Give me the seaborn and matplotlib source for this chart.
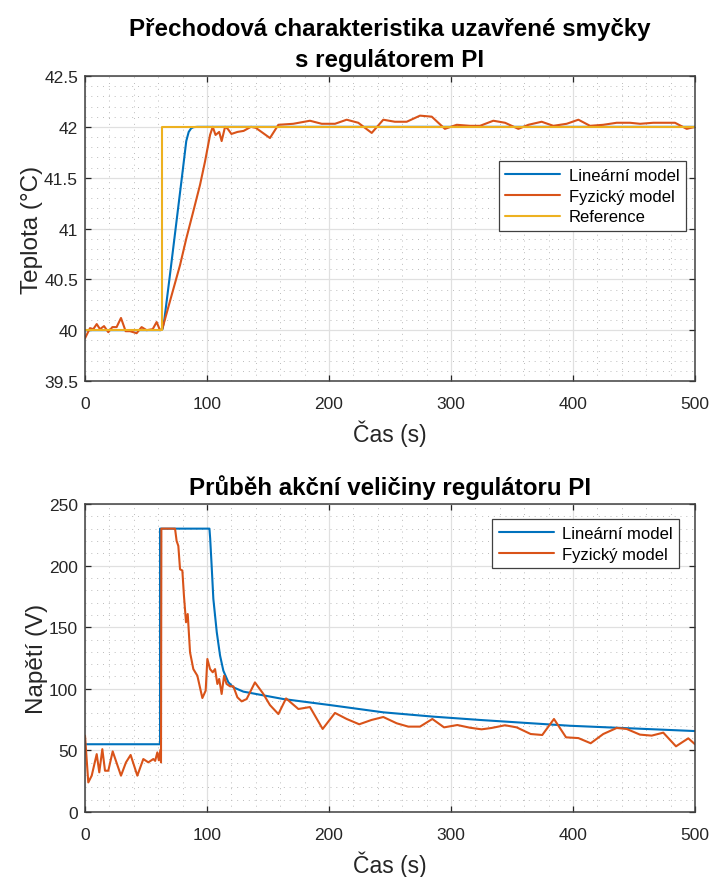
import numpy as np
import pandas as pd
import matplotlib
matplotlib.use("Agg")
import matplotlib.pyplot as plt
from matplotlib.ticker import MultipleLocator, FuncFormatter
import seaborn as sns

# ---------------- data ----------------
# Top: closed-loop step response (temperature)
t_ref = [0, 63, 63, 500]
y_ref = [40, 40, 42, 42]

t_lin_T = [0, 62, 63.5, 65, 70, 75, 80, 83, 85, 87, 89, 92, 500]
y_lin_T = [40, 40, 40.01, 40.1, 40.58, 41.07, 41.56, 41.86, 41.95, 41.985, 41.997, 42.0, 42.0]

t_fyz_T = [0, 4.1, 6.8, 9.6, 12.3, 15.6, 19.1, 22.4, 25.9, 29.5, 33.3, 36.9, 42.3, 46.4,
           50.5, 55.5, 58.7, 61.5, 63.3, 70, 77.9, 83, 88.8, 94.3, 98.4, 102.5, 104.7, 107,
           110, 112, 114.8, 117, 120, 125, 130, 136, 140, 151.6, 158.5, 170.7, 184.4, 194,
           204.9, 214.5, 224, 235, 244.5, 254, 263.7, 274.6, 284.2, 295, 304.7, 315.6,
           323.8, 334.7, 344.3, 355.2, 363.4, 374.3, 383.9, 394.8, 404.4, 414, 424.8,
           435.8, 446.7, 455, 465.8, 483.6, 493.2, 500]
y_fyz_T = [39.92, 40.02, 40.01, 40.06, 40.01, 40.04, 39.98, 40.03, 40.03, 40.12, 39.99, 39.99, 39.97, 40.03,
           40.0, 40.01, 40.08, 40.0, 40.01, 40.3, 40.64, 40.9, 41.17, 41.43, 41.66, 41.92, 42.0, 41.92,
           41.95, 41.86, 42.0, 41.98, 41.93, 41.95, 41.96, 42.0, 41.99, 41.89, 42.02, 42.03, 42.06, 42.03,
           42.03, 42.07, 42.04, 41.94, 42.07, 42.05, 42.05, 42.11, 42.10, 41.98, 42.02, 42.01,
           42.01, 42.06, 42.04, 41.98, 42.02, 42.05, 42.01, 42.03, 42.07, 42.01, 42.02,
           42.04, 42.04, 42.03, 42.04, 42.04, 41.98, 42.0]

# Bottom: control action (voltage)
t_lin_U = [0, 61.5, 61.5, 102, 102.6, 103.8, 105.2, 108, 110.7, 113.4, 117.5, 121.6, 129.8,
           143.4, 162.5, 200.8, 244.5, 285.5, 323.8, 397.5, 500]
u_lin_U = [55, 55, 230, 230, 222, 200, 173, 146, 127, 114.7, 105.3, 101.2, 97.7,
           95.2, 91.7, 86.8, 80.9, 77.4, 74.7, 70, 65.7]

t_fyz_U = [0, 2.7, 5.5, 9.6, 11.7, 14.2, 16.4, 19.1, 22.7, 29.5, 33.6, 37.4, 42.9, 47.8,
           51.9, 56, 57.5, 59.3, 60.5, 61.8, 62.3, 62.6, 73.8, 75.1, 76.5, 77.9, 79.8, 81.1,
           82.8, 84.2, 86.1, 88.8, 92.1, 96.2, 98.9, 100.3, 102.5, 104.7, 106.6, 108.5, 110,
           112, 114, 116, 118.9, 121.6, 124.9, 128.4, 132.5, 139.3, 146.2, 151.6, 158.5,
           164.8, 174.9, 184.4, 194.8, 204.9, 214.5, 224.8, 234.8, 244.5, 255.5, 265, 274.6,
           284.7, 294.3, 305.2, 315.6, 325.1, 333.2, 344.3, 353.8, 365.3, 374.8, 384.4,
           394.3, 404.4, 414.5, 424.8, 435.8, 444, 454.9, 464.5, 474, 484.4, 494.5, 500]
u_fyz_U = [62, 24, 29.5, 47, 32.2, 51, 33.5, 33.5, 49.2, 29.5, 40.3, 46.3, 29.5, 43,
           40.3, 43, 41.5, 48.4, 42, 50.4, 40.3, 230, 230, 220, 216, 197, 196, 175.6,
           154, 160.7, 129.6, 116, 110.6, 92.5, 98.5, 124.2, 116, 113.4, 116, 103.9, 108,
           95.8, 110.6, 104, 102, 102, 93.1, 89.8, 91.7, 105.2, 95.8, 86.8, 79.5,
           92.2, 83.6, 85.2, 67.4, 80.4, 75.5, 71.2, 74.7, 77.1, 72, 69.3, 69.3,
           75.5, 68.7, 70.6, 68.4, 67.1, 68.2, 70.4, 68.7, 63.3, 62.5, 75.5,
           60.6, 60, 55.8, 63.3, 68.2, 67.4, 62.8, 62, 64.4, 53.3, 59.8, 55]

labels = ["Lineární model", "Fyzický model", "Reference"]
titles = ["Přechodová charakteristika uzavřené smyčky\ns regulátorem PI",
          "Průběh akční veličiny regulátoru PI"]

# ---------------- style ----------------
sns.set_style("ticks")
plt.rcParams['font.family'] = ['Liberation Sans', 'DejaVu Sans']
C_BLUE, C_ORANGE, C_YELLOW = "#0072BD", "#D95319", "#EDB120"
DARK = "#262626"

fig = plt.figure(figsize=(7.12, 8.78), dpi=100)
ax1 = fig.add_axes([85/712, 1-382/878, 610/712, 305/878])
ax2 = fig.add_axes([85/712, 1-813/878, 610/712, 308/878])

LW = 1.5
kw = dict(estimator=None, sort=False, linewidth=LW)

sns.lineplot(x=t_lin_T, y=y_lin_T, ax=ax1, color=C_BLUE, label=labels[0], **kw)
sns.lineplot(x=t_fyz_T, y=y_fyz_T, ax=ax1, color=C_ORANGE, label=labels[1], **kw)
sns.lineplot(x=t_ref, y=y_ref, ax=ax1, color=C_YELLOW, label=labels[2], **kw)

sns.lineplot(x=t_lin_U, y=u_lin_U, ax=ax2, color=C_BLUE, label=labels[0], **kw)
sns.lineplot(x=t_fyz_U, y=u_fyz_U, ax=ax2, color=C_ORANGE, label=labels[1], **kw)

fmt = FuncFormatter(lambda v, p: f"{v:g}")
for ax in (ax1, ax2):
    ax.set_xlim(0, 500)
    ax.xaxis.set_major_locator(MultipleLocator(100))
    ax.xaxis.set_minor_locator(MultipleLocator(20))
    ax.yaxis.set_major_formatter(fmt)
    ax.grid(which='major', color='#e0e0e0', linewidth=0.9, linestyle='-')
    ax.grid(which='minor', color='#bcbcbc', linewidth=0.7, linestyle=(0, (1, 5)))
    ax.set_axisbelow(True)
    ax.tick_params(which='major', direction='in', top=True, right=True, length=4.5,
                   width=0.9, color=DARK, labelsize=12.5, labelcolor=DARK)
    ax.tick_params(axis='y', which='major', pad=5)
    ax.tick_params(axis='x', which='major', pad=11)
    ax.tick_params(which='minor', length=0, top=True, right=True)
    for s in ax.spines.values():
        s.set_color('#404040')
        s.set_linewidth(1.1)
    ax.set_xlabel("Čas (s)", fontsize=16.5, color=DARK, labelpad=6)

ax1.set_ylim(39.5, 42.5)
ax1.yaxis.set_major_locator(MultipleLocator(0.5))
ax1.yaxis.set_minor_locator(MultipleLocator(0.1))
ax1.set_ylabel("Teplota (°C)", fontsize=17.5, color=DARK, labelpad=1)
ax1.set_title(titles[0], fontsize=17.4, fontweight='bold', color='black', pad=7, linespacing=1.45)

ax2.set_ylim(0, 250)
ax2.yaxis.set_major_locator(MultipleLocator(50))
ax2.yaxis.set_minor_locator(MultipleLocator(10))
ax2.set_ylabel("Napětí (V)", fontsize=17.5, color=DARK, labelpad=1)
ax2.set_title(titles[1], fontsize=17.4, fontweight='bold', color='black', pad=7)

leg_kw = dict(loc='upper right', fontsize=12, frameon=True, fancybox=False, framealpha=1,
              edgecolor='#404040', handlelength=3.3, borderaxespad=0, borderpad=0.4,
              labelspacing=0.35, handletextpad=0.5)
l1 = ax1.legend(bbox_to_anchor=(0.985, 0.721), **leg_kw)
l2 = ax2.legend(bbox_to_anchor=(0.974, 0.951), **leg_kw)
for lg in (l1, l2):
    lg.get_frame().set_linewidth(0.9)
    for line in lg.get_lines():
        line.set_linewidth(LW)
    for txt in lg.get_texts():
        txt.set_color('black')

fig.savefig("out.png", dpi=100)
